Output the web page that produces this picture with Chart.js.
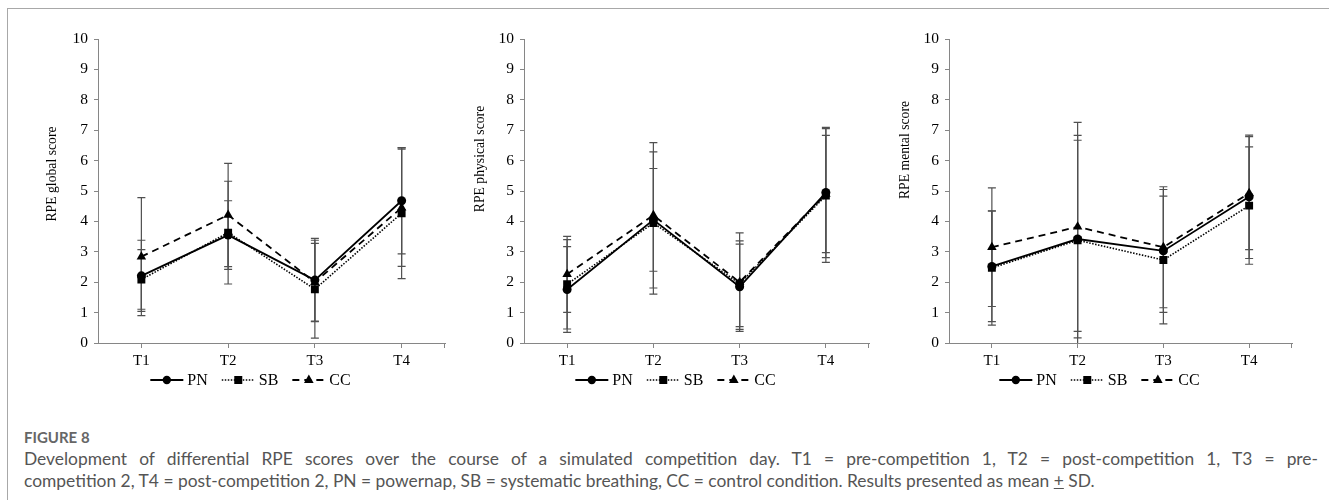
<!DOCTYPE html>
<html>
<head>
<meta charset="utf-8">
<script src="https://cdn.jsdelivr.net/npm/chart.js@4.4.1/dist/chart.umd.min.js"></script>
<style>
  body { margin: 0; background: #fff; width: 1329px; height: 500px; overflow: hidden; position: relative; }
  #frame { position: absolute; left: 7px; top: 8px; width: 1322px; height: 492px;
           border-top: 1px solid #a8a8a8; border-left: 1px solid #a8a8a8; }
  canvas { position: absolute; top: 20px; }
  #figlabel { position: absolute; left: 24px; top: 428px; font: bold 15px Lato, sans-serif;
              line-height: 18px; color: #666; }
  #caption { position: absolute; left: 24px; top: 448px; width: 1294px; font: 17.4px Lato, sans-serif;
             line-height: 22px; color: #555; }
  #caption .l1 { text-align: justify; text-align-last: justify; white-space: nowrap; }
</style>
</head>
<body>
<div id="frame"></div>
<canvas id="cGlobal"></canvas>
<canvas id="cPhysical"></canvas>
<canvas id="cMental"></canvas>
<div id="figlabel">FIGURE 8</div>
<div id="caption">
  <div class="l1">Development of differential RPE scores over the course of a simulated competition day. T1 = pre-competition 1, T2 = post-competition 1, T3 = pre-</div>
  <div>competition 2, T4 = post-competition 2, PN = powernap, SB = systematic breathing, CC = control condition. Results presented as mean <u>+</u> SD.</div>
</div>
<script>
// time points
const timepoints = ["T1", "T2", "T3", "T4"];
const yTicks = [0, 1, 2, 3, 4, 5, 6, 7, 8, 9, 10];

// RPE global score (mean, SD)
const globalPN = [2.21, 3.55, 2.07, 4.68];
const globalPNsd = [1.17, 1.13, 1.37, 1.75];
const globalSB = [2.09, 3.63, 1.77, 4.27];
const globalSBsd = [0.98, 1.69, 1.61, 2.15];
const globalCC = [2.84, 4.21, 2.00, 4.45];
const globalCCsd = [1.94, 1.70, 1.28, 1.93];

// RPE physical score
const physPN = [1.76, 4.05, 1.85, 4.95];
const physPNsd = [1.41, 1.69, 1.40, 2.14];
const physSB = [1.93, 3.95, 1.95, 4.85];
const physSBsd = [1.47, 2.34, 1.41, 2.20];
const physCC = [2.26, 4.20, 2.00, 4.90];
const physCCsd = [1.25, 2.39, 1.62, 1.93];

// RPE mental score
const mentalPN = [2.52, 3.42, 3.03, 4.81];
const mentalPNsd = [1.82, 3.25, 2.02, 2.03];
const mentalSB = [2.47, 3.38, 2.73, 4.52];
const mentalSBsd = [1.88, 3.45, 2.10, 1.93];
const mentalCC = [3.15, 3.82, 3.15, 4.93];
const mentalCCsd = [1.95, 3.44, 1.99, 1.86];

const serif = "'Liberation Serif', 'Times New Roman', serif";
const axisGrey = "#868686";

// line styles of the three conditions
const styles = {
  PN: { dash: [], width: 1.8, point: "circle", radius: 4.5 },
  SB: { dash: [1.5, 1.5], width: 1.6, point: "rect", radius: 5.6 },
  CC: { dash: [7, 5], width: 1.8, point: "triangle", radius: 5.5 },
};

// draws mean +/- SD whiskers for every dataset
const errorBars = {
  id: "errorBars",
  beforeDatasetsDraw(chart) {
    const { ctx, scales } = chart;
    ctx.save();
    ctx.strokeStyle = "#505050";
    ctx.lineWidth = 1.2;
    chart.data.datasets.forEach((ds) => {
      ds.sd.forEach((s, i) => {
        const px = scales.x.getPixelForValue(i);
        const hi = ds.data[i] + s;
        const lo = ds.data[i] - s;
        const yHi = scales.y.getPixelForValue(hi);
        const yLo = scales.y.getPixelForValue(Math.max(lo, 0));
        ctx.beginPath();
        ctx.moveTo(px, yHi);
        ctx.lineTo(px, yLo);
        ctx.moveTo(px - 4, yHi);
        ctx.lineTo(px + 4, yHi);
        if (lo >= 0) {
          ctx.moveTo(px - 4, yLo);
          ctx.lineTo(px + 4, yLo);
        }
        ctx.stroke();
      });
    });
    ctx.restore();
  },
};

function drawMarker(ctx, type, x, y) {
  ctx.beginPath();
  if (type === "circle") {
    ctx.arc(x, y, 4.2, 0, Math.PI * 2);
  } else if (type === "rect") {
    ctx.rect(x - 4, y - 4, 8, 8);
  } else {
    ctx.moveTo(x, y - 5.5);
    ctx.lineTo(x + 4.8, y + 3);
    ctx.lineTo(x - 4.8, y + 3);
    ctx.closePath();
  }
  ctx.fill();
}

// axis title, end tick and legend under the axis
const decorations = {
  id: "decorations",
  afterDraw(chart) {
    const { ctx, chartArea } = chart;
    const opts = chart.options.plugins.decorations;
    ctx.save();

    // y axis title
    ctx.fillStyle = "#000";
    ctx.font = "13.7px " + serif;
    ctx.textAlign = "center";
    ctx.textBaseline = "middle";
    ctx.save();
    ctx.translate(chartArea.left - opts.titleDx, opts.titleY - 20);
    ctx.rotate(-Math.PI / 2);
    ctx.fillText(opts.title, 0, 0);
    ctx.restore();

    // extra tick at the right end of the category axis
    ctx.strokeStyle = axisGrey;
    ctx.lineWidth = 1;
    ctx.beginPath();
    ctx.moveTo(chartArea.right - 0.5, chartArea.bottom);
    ctx.lineTo(chartArea.right - 0.5, chartArea.bottom + 5);
    ctx.stroke();

    // legend
    ctx.font = "16px " + serif;
    ctx.textAlign = "left";
    const sampleLen = 33;
    const items = chart.data.datasets.map((ds) => ({
      label: ds.label,
      st: styles[ds.label],
      w: sampleLen + 4 + ctx.measureText(ds.label).width,
    }));
    const gap = 14;
    const total = items.reduce((a, it) => a + it.w, 0) + gap * (items.length - 1);
    let x = (chartArea.left + chartArea.right) / 2 - 21 - total / 2;
    const y = 360;
    ctx.fillStyle = "#000";
    ctx.strokeStyle = "#000";
    items.forEach((it) => {
      ctx.lineWidth = it.st.width;
      ctx.setLineDash(it.st.dash);
      ctx.beginPath();
      ctx.moveTo(x, y);
      ctx.lineTo(x + sampleLen, y);
      ctx.stroke();
      ctx.setLineDash([]);
      drawMarker(ctx, it.st.point, x + sampleLen / 2, y);
      ctx.fillText(it.label, x + sampleLen + 4, y + 1);
      x += it.w + gap;
    });
    ctx.restore();
  },
};

function makeSet(label, data, sd) {
  const st = styles[label];
  return {
    label: label,
    data: data,
    sd: sd,
    borderColor: "#000",
    backgroundColor: "#000",
    borderWidth: st.width,
    borderDash: st.dash,
    pointStyle: st.point,
    pointRadius: st.radius,
    pointBorderWidth: 0,
    pointBackgroundColor: "#000",
    tension: 0,
  };
}

function makeChart(id, left, right, title, titleDx, titleY, pn, pnSd, sb, sbSd, cc, ccSd) {
  const el = document.getElementById(id);
  el.width = right - left + 93;
  el.height = 385;
  el.style.left = (left - 78) + "px";
  new Chart(el, {
    type: "line",
    data: {
      labels: timepoints,
      datasets: [
        makeSet("PN", pn, pnSd),
        makeSet("SB", sb, sbSd),
        makeSet("CC", cc, ccSd),
      ],
    },
    options: {
      responsive: false,
      animation: false,
      layout: { padding: { left: 20, right: 15, top: 19, bottom: 32 } },
      plugins: {
        legend: { display: false },
        tooltip: { enabled: false },
        decorations: { title: title, titleDx: titleDx, titleY: titleY },
      },
      scales: {
        x: {
          offset: true,
          grid: { offset: false, drawOnChartArea: false, tickLength: 5, color: axisGrey },
          border: { color: axisGrey },
          ticks: { color: "#000", font: { family: serif, size: 15 }, padding: 4 },
          afterFit: (s) => { s.height = 30; },
        },
        y: {
          min: 0,
          max: 10,
          afterBuildTicks: (s) => { s.ticks = yTicks.map((v) => ({ value: v })); },
          grid: { drawOnChartArea: false, tickLength: 4, color: axisGrey },
          border: { color: axisGrey },
          ticks: { color: "#000", font: { family: serif, size: 15.5 }, padding: 6 },
          afterFit: (s) => { s.width = 58; },
        },
      },
    },
    plugins: [errorBars, decorations],
  });
}

makeChart("cGlobal", 98, 445, "RPE global score", 46, 174, globalPN, globalPNsd, globalSB, globalSBsd, globalCC, globalCCsd);
makeChart("cPhysical", 524, 869, "RPE physical score", 44, 159, physPN, physPNsd, physSB, physSBsd, physCC, physCCsd);
makeChart("cMental", 949, 1292, "RPE mental score", 44, 150, mentalPN, mentalPNsd, mentalSB, mentalSBsd, mentalCC, mentalCCsd);
</script>
</body>
</html>
